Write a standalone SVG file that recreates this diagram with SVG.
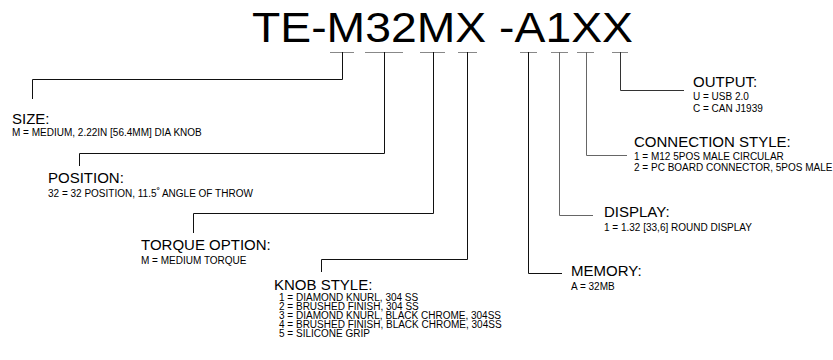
<svg xmlns="http://www.w3.org/2000/svg" width="833" height="360" viewBox="0 0 833 360">
<style>
text{font-family:"Liberation Sans",Arial,sans-serif;fill:#000}
.t{font-size:15px}
.s{font-size:10px}
.dash{stroke:#888;stroke-width:1;fill:none}
.k{stroke:#111;stroke-width:1;fill:none}
.g{stroke:#666;stroke-width:1;fill:none}
.g2{stroke:#333;stroke-width:1;fill:none}
</style>
<rect width="833" height="360" fill="#fff"/>
<g id="title"><text x="252" y="42" font-size="42" textLength="381" lengthAdjust="spacingAndGlyphs">TE-M32MX -A1XX</text></g>
<g id="connectors">
<path class="dash" d="M330,52.5H354M365,52.5H403M420,52.5H445M458,52.5H477M520,52.5H537M551,52.5H568M577,52.5H594M612,52.5H628"/>
<path class="k" d="M342.5,52V79.5H32.5V99"/>
<path class="k" d="M384.5,52V153.5H79.5V166"/>
<path class="k" d="M433.5,52V213.5H193.5V233"/>
<path class="k" d="M467.5,52V259.5H321.5V272"/>
<path class="k" d="M528.5,52V273.5H562"/>
<path class="g" d="M559.5,52V215.5H593"/>
<path class="g" d="M586.5,52V155.5H627"/>
<path class="g2" d="M620.5,52V90.5H684"/>
</g>
<g id="size"><text class="t" x="12" y="124">SIZE:</text><text class="s" x="12" y="136">M = MEDIUM, 2.22IN [56.4MM] DIA KNOB</text></g>
<g id="position"><text class="t" x="48" y="183">POSITION:</text><text class="s" x="48" y="197">32 = 32 POSITION, 11.5<tspan dy="-4" font-size="8" font-weight="bold">°</tspan><tspan dy="4"> ANGLE OF THROW</tspan></text></g>
<g id="torque"><text class="t" x="141" y="250">TORQUE OPTION:</text><text class="s" x="141" y="264">M = MEDIUM TORQUE</text></g>
<g id="knob"><text class="t" x="274" y="290">KNOB STYLE:</text>
<text class="s" x="279" y="301">1 = DIAMOND KNURL, 304 SS</text>
<text class="s" x="279" y="310">2 = BRUSHED FINISH, 304 SS</text>
<text class="s" x="279" y="319">3 = DIAMOND KNURL, BLACK CHROME, 304SS</text>
<text class="s" x="279" y="328">4 = BRUSHED FINISH, BLACK CHROME, 304SS</text>
<text class="s" x="279" y="337">5 = SILICONE GRIP</text></g>
<g id="memory"><text class="t" x="571" y="276">MEMORY:</text><text class="s" x="571" y="290">A = 32MB</text></g>
<g id="display"><text class="t" x="604" y="217">DISPLAY:</text><text class="s" x="604" y="231">1 = 1.32 [33,6] ROUND DISPLAY</text></g>
<g id="connection"><text class="t" x="634" y="147">CONNECTION STYLE:</text><text class="s" x="634" y="160">1 = M12 5POS MALE CIRCULAR</text><text class="s" x="634" y="171">2 = PC BOARD CONNECTOR, 5POS MALE</text></g>
<g id="output"><text class="t" x="693" y="87">OUTPUT:</text><text class="s" x="693" y="100">U = USB 2.0</text><text class="s" x="693" y="112">C = CAN J1939</text></g>
</svg>
